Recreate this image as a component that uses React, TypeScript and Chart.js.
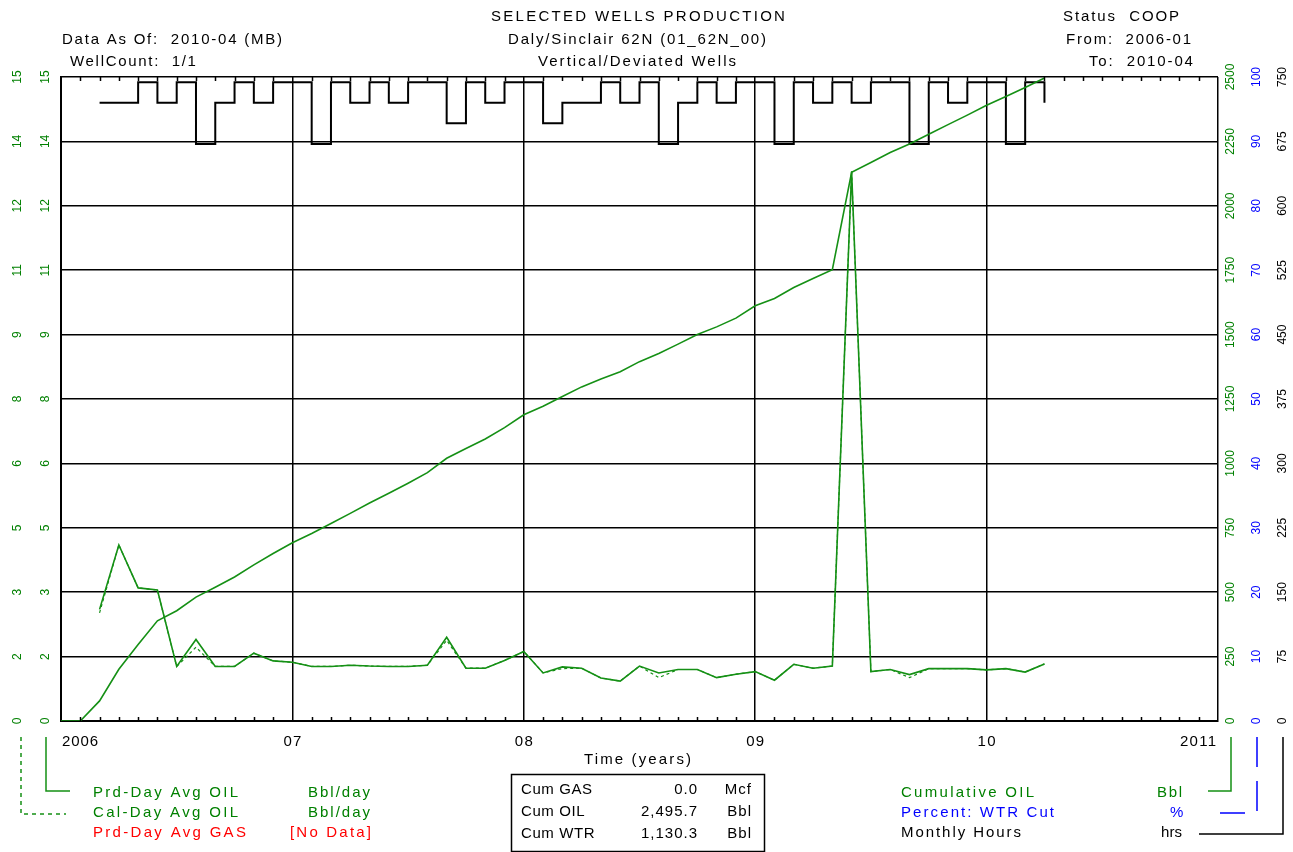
import React, { useEffect, useRef } from 'react';
import { Chart, registerables } from 'chart.js';

Chart.register(...registerables);

// ---------- data ----------
const cumMonths = [
  '2006-01', '2006-02', '2006-03', '2006-04', '2006-05', '2006-06', '2006-07', '2006-08', '2006-09', '2006-10', '2006-11', '2006-12',
  '2007-01', '2007-02', '2007-03', '2007-04', '2007-05', '2007-06', '2007-07', '2007-08', '2007-09', '2007-10', '2007-11', '2007-12',
  '2008-01', '2008-02', '2008-03', '2008-04', '2008-05', '2008-06', '2008-07', '2008-08', '2008-09', '2008-10', '2008-11', '2008-12',
  '2009-01', '2009-02', '2009-03', '2009-04', '2009-05', '2009-06', '2009-07', '2009-08', '2009-09', '2009-10', '2009-11', '2009-12',
  '2010-01', '2010-02', '2010-03', '2010-04',
];
const cumOil = [
  0, 0, 78, 201, 297, 389, 428, 481, 519, 559, 606, 650,
  692, 728, 767, 806, 846, 884, 923, 964, 1020, 1058, 1095, 1139,
  1189, 1222, 1260, 1297, 1328, 1356, 1395, 1427, 1463, 1500, 1530, 1564,
  1612, 1640, 1683, 1718, 1752, 2130, 2168, 2207, 2240, 2278, 2315, 2352,
  2390, 2424, 2459, 2496,
];

const prodMonths = [
  '2006-03', '2006-04', '2006-05', '2006-06', '2006-07', '2006-08', '2006-09', '2006-10', '2006-11', '2006-12',
  '2007-01', '2007-02', '2007-03', '2007-04', '2007-05', '2007-06', '2007-07', '2007-08', '2007-09', '2007-10',
  '2007-11', '2007-12', '2008-01', '2008-02', '2008-03', '2008-04', '2008-05', '2008-06', '2008-07', '2008-08',
  '2008-09', '2008-10', '2008-11', '2008-12', '2009-01', '2009-02', '2009-03', '2009-04', '2009-05', '2009-06',
  '2009-07', '2009-08', '2009-09', '2009-10', '2009-11', '2009-12', '2010-01', '2010-02', '2010-03', '2010-04',
];
const prdDayOil = [
  2.6, 4.1, 3.1, 3.05, 1.27, 1.9, 1.27, 1.27, 1.58, 1.4,
  1.37, 1.27, 1.27, 1.3, 1.28, 1.27, 1.27, 1.3, 1.95, 1.23,
  1.23, 1.41, 1.62, 1.12, 1.26, 1.23, 1.0, 0.93, 1.28, 1.12,
  1.2, 1.2, 1.01, 1.09, 1.15, 0.95, 1.32, 1.23, 1.28, 12.8,
  1.15, 1.2, 1.08, 1.22, 1.22, 1.22, 1.19, 1.22, 1.14, 1.33,
];
const calDayOil = [
  2.52, 4.1, 3.1, 3.05, 1.27, 1.72, 1.27, 1.27, 1.58, 1.4,
  1.37, 1.27, 1.27, 1.3, 1.28, 1.27, 1.27, 1.3, 1.88, 1.23,
  1.23, 1.41, 1.62, 1.12, 1.22, 1.23, 1.0, 0.93, 1.28, 1.01,
  1.2, 1.2, 1.01, 1.09, 1.15, 0.95, 1.32, 1.23, 1.28, 12.8,
  1.15, 1.2, 1.01, 1.22, 1.22, 1.22, 1.19, 1.22, 1.14, 1.33,
];
const monthlyHours = [
  720, 720, 744, 720, 744, 672, 720, 744, 720, 744,
  744, 672, 744, 720, 744, 720, 744, 744, 696, 744,
  720, 744, 744, 696, 720, 720, 744, 720, 744, 672,
  720, 744, 720, 744, 744, 672, 744, 720, 744, 720,
  744, 744, 672, 744, 720, 744, 744, 672, 744, 720,
];

const leftTickValues = [0, 1.5, 3, 4.5, 6, 7.5, 9, 10.5, 12, 13.5, 15];
const leftTickLabels = ['0', '2', '3', '5', '6', '8', '9', '11', '12', '14', '15'];
const cumTickValues = [0, 250, 500, 750, 1000, 1250, 1500, 1750, 2000, 2250, 2500];
const cumTickLabels = ['0', '250', '500', '750', '1000', '1250', '1500', '1750', '2000', '2250', '2500'];
const pctTickValues = [0, 10, 20, 30, 40, 50, 60, 70, 80, 90, 100];
const pctTickLabels = ['0', '10', '20', '30', '40', '50', '60', '70', '80', '90', '100'];
const hrsTickValues = [0, 75, 150, 225, 300, 375, 450, 525, 600, 675, 750];
const hrsTickLabels = ['0', '75', '150', '225', '300', '375', '450', '525', '600', '675', '750'];
const xTickYears = [2006, 2007, 2008, 2009, 2010, 2011];
const xTickLabels = ['2006', '07', '08', '09', '10', '2011'];

const summaryNames = ['Cum GAS', 'Cum OIL', 'Cum WTR'];
const summaryValues = ['0.0', '2,495.7', '1,130.3'];
const summaryUnits = ['Mcf', 'Bbl', 'Bbl'];

// ---------- helpers ----------
const toYear = (m: string) => {
  const [y, mo] = m.split('-').map(Number);
  return y + (mo - 1) / 12;
};

const GREEN = '#008000';
const LINE_GREEN = '#159015';
const BLUE = '#0000ff';
const RED = '#ff0000';
const BLACK = '#000000';
const FONT = '15px "Liberation Sans", Arial, sans-serif';
const TICK_FONT = '12px "Liberation Sans", Arial, sans-serif';

function fitText(ctx: CanvasRenderingContext2D, text: string, x1: number, x2: number, cy: number, color: string) {
  ctx.font = FONT;
  (ctx as any).letterSpacing = '0px';
  const w = ctx.measureText(text).width;
  const n = text.length;
  const sp = n > 1 ? (x2 - x1 - w) / (n - 1) : 0;
  (ctx as any).letterSpacing = sp.toFixed(2) + 'px';
  ctx.fillStyle = color;
  ctx.textAlign = 'left';
  ctx.textBaseline = 'middle';
  ctx.fillText(text, x1, cy);
  (ctx as any).letterSpacing = '0px';
}

function spacedText(ctx: CanvasRenderingContext2D, text: string, x: number, cy: number, color: string, sp: number, right = false) {
  ctx.font = FONT;
  (ctx as any).letterSpacing = '0px';
  const w = ctx.measureText(text).width + sp * (text.length - 1);
  (ctx as any).letterSpacing = sp + 'px';
  ctx.fillStyle = color;
  ctx.textAlign = 'left';
  ctx.textBaseline = 'middle';
  ctx.fillText(text, right ? x - w : x, cy);
  (ctx as any).letterSpacing = '0px';
}

function rotLabel(ctx: CanvasRenderingContext2D, text: string, x: number, y: number, color: string) {
  ctx.save();
  ctx.translate(x, y);
  ctx.rotate(-Math.PI / 2);
  ctx.font = TICK_FONT;
  ctx.fillStyle = color;
  ctx.textAlign = 'center';
  ctx.textBaseline = 'middle';
  ctx.fillText(text, 0, 0);
  ctx.restore();
}

function polyline(ctx: CanvasRenderingContext2D, pts: number[][], color: string, dash: number[] = [], width = 1.5) {
  ctx.save();
  ctx.strokeStyle = color;
  ctx.lineWidth = width;
  ctx.setLineDash(dash);
  ctx.beginPath();
  pts.forEach((p, i) => (i === 0 ? ctx.moveTo(p[0], p[1]) : ctx.lineTo(p[0], p[1])));
  ctx.stroke();
  ctx.restore();
}

const overlay = {
  id: 'overlay',
  afterDraw(chart: any) {
    const ctx: CanvasRenderingContext2D = chart.ctx;
    const xs = chart.scales.x;
    const yL = chart.scales.yL;
    const yCum = chart.scales.yCum;
    const yPct = chart.scales.yPct;
    const yHrs = chart.scales.yHrs;
    const area = chart.chartArea;
    ctx.save();

    // monthly minor ticks on bottom and top borders
    ctx.strokeStyle = BLACK;
    ctx.lineWidth = 1.5;
    ctx.beginPath();
    for (let k = 1; k < 60; k++) {
      if (k % 12 === 0) continue;
      const x = Math.round(xs.getPixelForValue(2006 + k / 12)) + 0.5;
      ctx.moveTo(x, area.bottom);
      ctx.lineTo(x, area.bottom - 4);
      ctx.moveTo(x, area.top);
      ctx.lineTo(x, area.top + 4);
    }
    ctx.stroke();

    // rotated axis labels
    leftTickValues.forEach((v, i) => {
      const y = yL.getPixelForValue(v);
      rotLabel(ctx, leftTickLabels[i], 18, y, GREEN);
      rotLabel(ctx, leftTickLabels[i], 46, y, GREEN);
    });
    cumTickValues.forEach((v, i) => rotLabel(ctx, cumTickLabels[i], 1231, yCum.getPixelForValue(v), GREEN));
    pctTickValues.forEach((v, i) => rotLabel(ctx, pctTickLabels[i], 1257, yPct.getPixelForValue(v), BLUE));
    hrsTickValues.forEach((v, i) => rotLabel(ctx, hrsTickLabels[i], 1283, yHrs.getPixelForValue(v), BLACK));

    // x tick labels
    xTickYears.forEach((yr, i) => {
      const x = xs.getPixelForValue(yr);
      const t = xTickLabels[i];
      if (i === 0) fitText(ctx, t, x + 1, x + 37, 742, BLACK);
      else if (i === xTickYears.length - 1) fitText(ctx, t, x - 38, x - 2, 742, BLACK);
      else fitText(ctx, t, x - 9, x + 9, 742, BLACK);
    });

    // header
    fitText(ctx, 'Data As Of:  2010-04 (MB)', 62, 282, 40, BLACK);
    fitText(ctx, 'WellCount:  1/1', 70, 196, 62, BLACK);
    fitText(ctx, 'SELECTED WELLS PRODUCTION', 491, 785, 17, BLACK);
    fitText(ctx, 'Daly/Sinclair 62N (01_62N_00)', 508, 766, 40, BLACK);
    fitText(ctx, 'Vertical/Deviated Wells', 538, 736, 62, BLACK);
    fitText(ctx, 'Status  COOP', 1063, 1179, 17, BLACK);
    fitText(ctx, 'From:  2006-01', 1066, 1191, 40, BLACK);
    fitText(ctx, 'To:  2010-04', 1089, 1193, 62, BLACK);

    // axis title
    fitText(ctx, 'Time (years)', 584, 691, 760, BLACK);

    // left legend
    polyline(ctx, [[46, 737], [46, 791], [70, 791]], LINE_GREEN);
    polyline(ctx, [[21, 737], [21, 814], [66, 814]], LINE_GREEN, [4, 4]);
    fitText(ctx, 'Prd-Day Avg OIL', 93, 238, 793, GREEN);
    fitText(ctx, 'Bbl/day', 308, 370, 793, GREEN);
    fitText(ctx, 'Cal-Day Avg OIL', 93, 238, 813, GREEN);
    fitText(ctx, 'Bbl/day', 308, 370, 813, GREEN);
    fitText(ctx, 'Prd-Day Avg GAS', 93, 246, 833, RED);
    fitText(ctx, '[No Data]', 290, 371, 833, RED);

    // summary box
    ctx.strokeStyle = BLACK;
    ctx.lineWidth = 1.5;
    ctx.setLineDash([]);
    ctx.strokeRect(511.5, 774.5, 253, 77);
    const rowY = [790, 812, 834];
    summaryNames.forEach((t, i) => {
      spacedText(ctx, t, 521, rowY[i], BLACK, 0.6);
      spacedText(ctx, summaryValues[i], 697, rowY[i], BLACK, 1, true);
      spacedText(ctx, summaryUnits[i], 751, rowY[i], BLACK, 1, true);
    });

    // right legend
    fitText(ctx, 'Cumulative OIL', 901, 1034, 793, GREEN);
    fitText(ctx, 'Bbl', 1157, 1182, 793, GREEN);
    fitText(ctx, 'Percent: WTR Cut', 901, 1054, 813, BLUE);
    fitText(ctx, '%', 1170, 1178, 813, BLUE);
    fitText(ctx, 'Monthly Hours', 901, 1021, 833, BLACK);
    fitText(ctx, 'hrs', 1161, 1182, 833, BLACK);
    polyline(ctx, [[1231, 737], [1231, 791], [1208, 791]], LINE_GREEN);
    polyline(ctx, [[1257, 737], [1257, 813], [1220, 813]], BLUE, [30, 14]);
    polyline(ctx, [[1283, 737], [1283, 834], [1199, 834]], BLACK);

    ctx.restore();
  },
};

export default function App() {
  const ref = useRef<HTMLCanvasElement>(null);

  useEffect(() => {
    const canvas = ref.current!;
    const chart = new Chart(canvas, {
      type: 'line',
      data: {
        datasets: [
          {
            label: 'Cumulative OIL',
            data: cumMonths.map((m, i) => ({ x: toYear(m), y: cumOil[i] })),
            yAxisID: 'yCum',
            borderColor: LINE_GREEN,
            borderWidth: 1.6,
            pointRadius: 0,
            tension: 0,
          },
          {
            label: 'Prd-Day Avg OIL',
            data: prodMonths.map((m, i) => ({ x: toYear(m), y: prdDayOil[i] })),
            yAxisID: 'yL',
            borderColor: LINE_GREEN,
            borderWidth: 1.6,
            pointRadius: 0,
            tension: 0,
          },
          {
            label: 'Cal-Day Avg OIL',
            data: prodMonths.map((m, i) => ({ x: toYear(m), y: calDayOil[i] })),
            yAxisID: 'yL',
            borderColor: LINE_GREEN,
            borderWidth: 1.2,
            borderDash: [3, 3],
            pointRadius: 0,
            tension: 0,
          },
          {
            label: 'Monthly Hours',
            data: prodMonths.map((m, i) => ({ x: toYear(m), y: monthlyHours[i] })),
            yAxisID: 'yHrs',
            borderColor: BLACK,
            borderWidth: 2,
            pointRadius: 0,
            stepped: 'before',
          },
        ],
      },
      options: {
        responsive: false,
        maintainAspectRatio: false,
        animation: false,
        devicePixelRatio: 1,
        layout: { padding: { left: 61, right: 75, top: 77, bottom: 131 } },
        plugins: {
          legend: { display: false },
          tooltip: { enabled: false },
          title: { display: false },
        },
        scales: {
          x: {
            type: 'linear',
            min: 2006,
            max: 2011,
            ticks: { display: false, stepSize: 1 },
            grid: { display: true, color: BLACK, lineWidth: 1.5, drawTicks: false },
            border: { display: true, color: BLACK, width: 2 },
          },
          yL: {
            type: 'linear',
            position: 'left',
            min: 0,
            max: 15,
            ticks: { display: false, stepSize: 1.5 },
            grid: { display: true, color: BLACK, lineWidth: 1.5, drawTicks: false },
            border: { display: true, color: BLACK, width: 2 },
          },
          yCum: { type: 'linear', position: 'right', min: 0, max: 2500, display: false },
          yPct: { type: 'linear', position: 'right', min: 0, max: 100, display: false },
          yHrs: { type: 'linear', position: 'right', min: 0, max: 750, display: false },
        },
      },
      plugins: [overlay],
    } as any);
    return () => chart.destroy();
  }, []);

  return (
    <div style={{ position: 'absolute', left: 0, top: 0, width: 1293, height: 852, background: '#fff' }}>
      <canvas ref={ref} width={1293} height={852} style={{ display: 'block', width: 1293, height: 852 }} />
    </div>
  );
}
